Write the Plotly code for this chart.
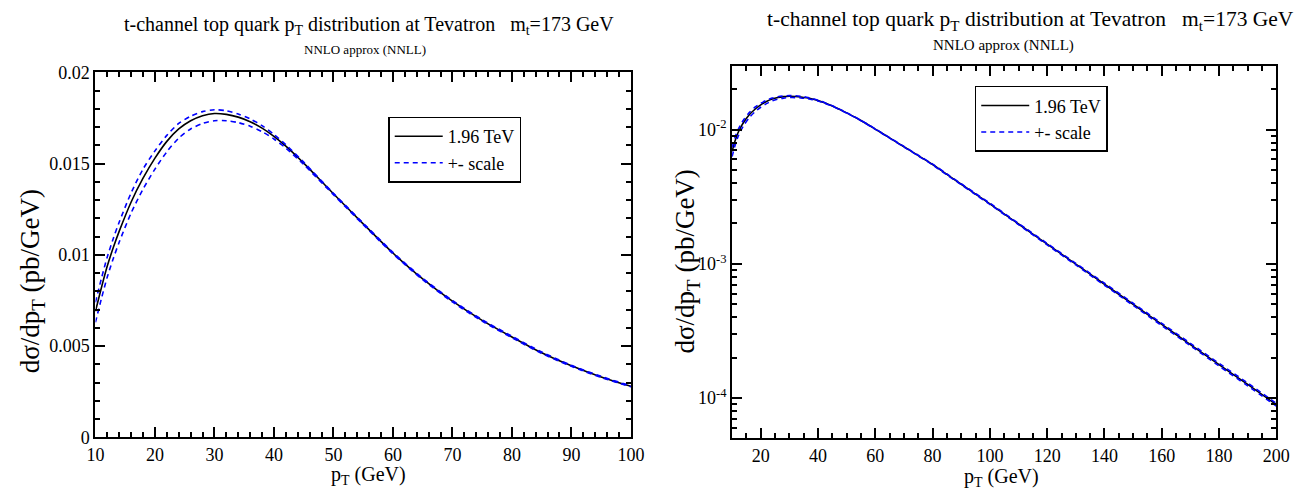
import plotly.graph_objects as go
import numpy as np

# ---- data ----
pt = [10, 11, 12, 13, 14, 16, 18, 20, 22, 24, 26, 28, 30, 32, 34, 36, 38, 40, 42, 45, 50,
      55, 60, 65, 70, 75, 80, 85, 90, 95, 100, 110, 120, 130, 140, 150, 160, 170, 180, 190, 200]

central = [0.0069, 0.0082, 0.0094, 0.0104, 0.0113, 0.0129, 0.0142, 0.0153, 0.01622, 0.0169,
           0.01735, 0.01763, 0.01775, 0.0177, 0.01755, 0.0173, 0.01695, 0.0165, 0.01596, 0.01503, 0.01335,
           0.0117, 0.0101, 0.00868, 0.00746, 0.00641, 0.0055, 0.00464, 0.00392, 0.00331, 0.0028,
           0.00198, 0.0014, 0.000994, 0.000704, 0.000499, 0.000353, 0.00025, 0.000177, 0.000126, 0.000089]

upper = [0.0074, 0.0087, 0.0099, 0.0109, 0.0118, 0.0134, 0.0147, 0.0157, 0.01655, 0.0172,
         0.0176, 0.01785, 0.01795, 0.0179, 0.01772, 0.01745, 0.01708, 0.0166, 0.01604, 0.01508, 0.01338,
         0.01174, 0.01014, 0.00872, 0.0075, 0.00645, 0.00554, 0.00468, 0.00395, 0.00334, 0.00283,
         0.002, 0.001418, 0.001008, 0.000716, 0.000508, 0.00036, 0.000255, 0.000181, 0.000129, 0.0000912]

lower = [0.0063, 0.0076, 0.0088, 0.0098, 0.0107, 0.0123, 0.0136, 0.0147, 0.01565, 0.0164,
         0.0169, 0.0172, 0.01735, 0.01735, 0.01725, 0.01705, 0.01675, 0.01635, 0.01585, 0.01495, 0.0133,
         0.01166, 0.01006, 0.00864, 0.00742, 0.00637, 0.00546, 0.0046, 0.00389, 0.00328, 0.00277,
         0.00196, 0.001382, 0.00098, 0.000692, 0.00049, 0.000346, 0.000245, 0.000173, 0.000123, 0.0000868]

left_xticks = [10, 20, 30, 40, 50, 60, 70, 80, 90, 100]
left_yticks = [0, 0.005, 0.01, 0.015, 0.02]
left_yticktext = ["0", "0.005", "0.01", "0.015", "0.02"]
right_xticks = [20, 40, 60, 80, 100, 120, 140, 160, 180, 200]
right_yticks = [1e-4, 1e-3, 1e-2]
right_yticktext = ["10<sup>-4</sup>", "10<sup>-3</sup>", "10<sup>-2</sup>"]

title_text = "t-channel top quark p<sub>T</sub> distribution at Tevatron\u00a0\u00a0\u00a0m<sub>t</sub>=173 GeV"
subtitle_text = "NNLO approx (NNLL)"
ytitle = "d\u03c3/dp<sub>T</sub> (pb/GeV)"
xtitle = "p<sub>T</sub> (GeV)"

FONT = "Liberation Serif, Times New Roman, Times, DejaVu Serif, serif"
W, H = 1310, 503

fig = go.Figure()
for xa, ya, lg in [("x", "y", "legend"), ("x2", "y2", "legend2")]:
    fig.add_trace(go.Scatter(x=pt, y=central, mode="lines", name="1.96 TeV",
                             line=dict(color="black", width=1.6, shape="spline", smoothing=0.8),
                             xaxis=xa, yaxis=ya, legend=lg))
    fig.add_trace(go.Scatter(x=pt, y=upper, mode="lines", name="+- scale",
                             line=dict(color="#0000ff", width=1.6, dash="5px,4px", shape="spline", smoothing=0.8),
                             xaxis=xa, yaxis=ya, legend=lg))
    fig.add_trace(go.Scatter(x=pt, y=lower, mode="lines", name="+- scale", showlegend=False,
                             line=dict(color="#0000ff", width=1.6, dash="5px,4px", shape="spline", smoothing=0.8),
                             xaxis=xa, yaxis=ya, legend=lg))

def px_x(p):
    return p / W

def px_y(p):
    return 1 - p / H

axis_common = dict(showline=True, linewidth=2, linecolor="black", mirror="ticks",
                   ticks="inside", ticklen=10, tickwidth=2, tickcolor="black",
                   showgrid=False, zeroline=False,
                   tickfont=dict(family=FONT, size=18, color="black"))

legend_common = dict(xanchor="left", yanchor="top", bordercolor="black", borderwidth=1.5,
                     bgcolor="white", itemwidth=48,
                     font=dict(family=FONT, size=18, color="black"), tracegroupgap=0)

fig.update_layout(
    width=W, height=H, autosize=False,
    margin=dict(l=0, r=0, t=0, b=0),
    paper_bgcolor="white", plot_bgcolor="white",
    font=dict(family=FONT, color="black"),
    xaxis=dict(domain=[px_x(88), px_x(633)], range=[10, 100], tickvals=left_xticks,
               minor=dict(dtick=2, tick0=10, ticks="inside", ticklen=5, tickwidth=1.5, tickcolor="black"),
               anchor="y", **axis_common),
    yaxis=dict(domain=[px_y(445), px_y(65)], range=[0, 0.02], tickvals=left_yticks, ticktext=left_yticktext,
               minor=dict(dtick=0.001, tick0=0, ticks="inside", ticklen=5, tickwidth=1.5, tickcolor="black"),
               anchor="x", **axis_common),
    xaxis2=dict(domain=[px_x(736), px_x(1290)], range=[10, 200], tickvals=right_xticks,
                minor=dict(dtick=5, tick0=10, ticks="inside", ticklen=5, tickwidth=1.5, tickcolor="black"),
                anchor="y2", **axis_common),
    yaxis2=dict(domain=[px_y(446), px_y(58)], type="log", range=[np.log10(5e-5), np.log10(0.03)],
                tickvals=right_yticks, ticktext=right_yticktext,
                minor=dict(tickvals=[m * 10.0 ** e for e in (-5, -4, -3, -2) for m in range(2, 10)],
                           ticks="inside", ticklen=5, tickwidth=1.5, tickcolor="black"),
                anchor="x2", **axis_common),
    legend=dict(x=px_x(386), y=px_y(111), **legend_common),
    legend2=dict(x=px_x(983), y=px_y(79), **legend_common),
)

ann = []
# titles
ann.append(dict(text=title_text, x=px_x(366), y=px_y(16), xref="paper", yref="paper",
                showarrow=False, font=dict(family=FONT, size=20), xanchor="center", yanchor="middle"))
ann.append(dict(text=subtitle_text, x=px_x(362), y=px_y(41), xref="paper", yref="paper",
                showarrow=False, font=dict(family=FONT, size=13), xanchor="center", yanchor="middle"))
ann.append(dict(text=title_text, x=px_x(1040), y=px_y(11), xref="paper", yref="paper",
                showarrow=False, font=dict(family=FONT, size=21.5), xanchor="center", yanchor="middle"))
ann.append(dict(text=subtitle_text, x=px_x(1012), y=px_y(37), xref="paper", yref="paper",
                showarrow=False, font=dict(family=FONT, size=15), xanchor="center", yanchor="middle"))
# axis titles
ann.append(dict(text=ytitle, x=px_x(23), y=px_y(283), xref="paper", yref="paper", textangle=-90,
                showarrow=False, font=dict(family=FONT, size=27), xanchor="center", yanchor="middle"))
ann.append(dict(text=ytitle, x=px_x(690), y=px_y(262), xref="paper", yref="paper", textangle=-90,
                showarrow=False, font=dict(family=FONT, size=27), xanchor="center", yanchor="middle"))
ann.append(dict(text=xtitle, x=px_x(366), y=px_y(485), xref="paper", yref="paper",
                showarrow=False, font=dict(family=FONT, size=20), xanchor="center", yanchor="middle"))
ann.append(dict(text=xtitle, x=px_x(1010), y=px_y(487), xref="paper", yref="paper",
                showarrow=False, font=dict(family=FONT, size=20), xanchor="center", yanchor="middle"))
fig.update_layout(annotations=ann)

fig.write_html("out.html")
